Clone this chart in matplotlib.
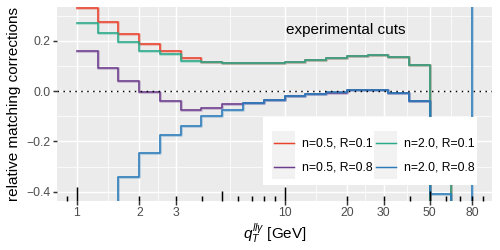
import numpy as np
import matplotlib
matplotlib.use("Agg")
import matplotlib.pyplot as plt
from matplotlib.patches import Rectangle
from matplotlib.lines import Line2D
from matplotlib.ticker import NullFormatter

plt.rcParams['font.family'] = ['Liberation Sans', 'DejaVu Sans']
plt.rcParams['mathtext.fontset'] = 'custom'
plt.rcParams['mathtext.rm'] = 'Liberation Sans'
plt.rcParams['mathtext.it'] = 'Liberation Sans:italic'

# ---------------- data ----------------
# bin edges: 10 bins per decade from 1 to ~80 (last entry closes the final bin)
bin_exponents = list(range(0, 20))
edges = [10 ** (k / 10) for k in bin_exponents]

series_labels = ["n=0.5, R=0.1", "n=0.5, R=0.8", "n=2.0, R=0.1", "n=2.0, R=0.8"]
series_colors = ["#e8412c", "#6b3d8c", "#2aa98a", "#2a7bba"]

red_vals = [0.331, 0.274, 0.227, 0.188, 0.160, 0.133, 0.117, 0.114, 0.114, 0.113,
            0.117, 0.126, 0.134, 0.140, 0.144, 0.136, 0.106, -0.6, -0.3, -0.3]
purple_vals = [0.160, 0.094, 0.040, -0.002, -0.040, -0.074, -0.066, -0.050, -0.047, -0.035,
               -0.021, -0.010, -0.006, 0.003, 0.003, -0.006, -0.038, -0.6, -0.6, -0.6]
teal_vals = [0.272, 0.230, 0.194, 0.160, 0.147, 0.122, 0.116, 0.112, 0.113, 0.113,
             0.117, 0.126, 0.134, 0.140, 0.144, 0.136, 0.106, -0.6, -0.3, -0.3]
blue_vals = [-0.6, -0.6, -0.341, -0.245, -0.175, -0.137, -0.100, -0.073, -0.048, -0.035,
             -0.020, -0.010, -0.005, 0.003, 0.003, -0.006, -0.038, -0.41, -0.6, 0.6]
series_vals = [red_vals, purple_vals, teal_vals, blue_vals]

x_breaks = [1, 2, 3, 10, 20, 30, 50, 80]
x_break_labels = ["1", "2", "3", "10", "20", "30", "50", "80"]
y_breaks = [-0.4, -0.2, 0.0, 0.2]
y_break_labels = ["\u22120.4", "\u22120.2", "0.0", "0.2"]
y_minor = [-0.3, -0.1, 0.1, 0.3]

annotation_text = "experimental cuts"
annotation_pos = (19.6, 0.243)

# ---------------- figure ----------------
W, H = 500, 250
fig = plt.figure(figsize=(W / 100, H / 100), dpi=100)
L, R, T, B = 57, 492, 7, 200.5
ax = fig.add_axes([L / W, 1 - B / H, (R - L) / W, (B - T) / H])
ax.set_facecolor("#EBEBEB")
for s in ax.spines.values():
    s.set_visible(False)

ax.set_xscale("log")
lx = np.log10([1, 80])
pad = 0.05 * (lx[1] - lx[0])
ax.set_xlim(10 ** (lx[0] - pad), 10 ** (lx[1] + pad))
ax.set_ylim(-0.435, 0.335)

ax.set_xticks(x_breaks)
ax.set_xticklabels(x_break_labels)
xminor = [np.sqrt(a * b) for a, b in zip(x_breaks[:-1], x_breaks[1:])]
ax.set_xticks(xminor, minor=True)
ax.xaxis.set_minor_formatter(NullFormatter())
ax.set_yticks(y_breaks)
ax.set_yticklabels(y_break_labels)
ax.set_yticks(y_minor, minor=True)
ax.yaxis.set_minor_formatter(NullFormatter())

ax.tick_params(which="major", length=2.75, width=1.07, color="#333333",
               labelsize=8.8, labelcolor="#4D4D4D", pad=2.2)
ax.tick_params(which="minor", length=0)
ax.grid(which="major", color="white", lw=1.07)
ax.grid(which="minor", color="white", lw=0.53)
ax.set_axisbelow(True)

# step lines (with a faint halo, as in the reference rendering)
for vals, col in zip(series_vals, series_colors):
    ax.step(edges, vals, where="post", color=col, lw=2.0, alpha=0.3, zorder=3)
    ax.step(edges, vals, where="post", color=col, lw=1.1, zorder=3)

ax.axhline(0, color="black", lw=1.07, ls=(0, (1, 3)), zorder=4)

# log ticks along bottom (inside panel)
px_h = B - T
lo, hi = ax.get_xlim()
for dec in [0.1, 1, 10, 100]:
    for m in range(1, 10):
        v = dec * m
        if lo <= v <= hi:
            ln = 14 if m == 1 else (9.5 if m == 5 else 5)
            ax.vlines(v, 0, ln / px_h, transform=ax.get_xaxis_transform(),
                      color="black", lw=1.07, zorder=5, clip_on=False)

ax.text(annotation_pos[0], annotation_pos[1], annotation_text, ha="center",
        va="center", fontsize=11, color="black", zorder=6)

ax.set_ylabel("relative matching corrections", fontsize=11, color="black")
ax.yaxis.set_label_coords((21 - L) / (R - L), 0.5)
ax.set_xlabel(r"$q_T^{ll\gamma}$ [GeV]", fontsize=11, color="black")
ax.xaxis.set_label_coords(0.5, (B - 222) / px_h)

# legend (manual, ggplot style)
def fx(p):
    return (p - L) / (R - L)

def fy(p):
    return (B - p) / (B - T)

ax.add_patch(Rectangle((fx(263), fy(185)), fx(477) - fx(263), fy(117) - fy(185),
                       transform=ax.transAxes, facecolor="white", edgecolor="none",
                       zorder=10))
key_cols = [(272, 295, 302), (374, 397, 404)]
row_y = [(131, 155), (155, 179)]
order = [(0, 0), (0, 1), (1, 0), (1, 1)]  # (col, row) for each series
for (c, r), lab, col in zip(order, series_labels, series_colors):
    kx0, kx1, tx = key_cols[c]
    ky0, ky1 = row_y[r]
    ax.add_patch(Rectangle((fx(kx0), fy(ky1)), fx(kx1) - fx(kx0), fy(ky0) - fy(ky1),
                           transform=ax.transAxes, facecolor="#F2F2F2",
                           edgecolor="none", zorder=11))
    yc = fy((ky0 + ky1) / 2)
    ax.add_line(Line2D([fx(kx0 + 1.5), fx(kx1 - 1.5)], [yc, yc], transform=ax.transAxes,
                       color=col, lw=1.07, zorder=12))
    ax.text(fx(tx), yc, lab, transform=ax.transAxes, ha="left", va="center",
            fontsize=8.8, color="black", zorder=12)

fig.savefig("out.png", dpi=100)
